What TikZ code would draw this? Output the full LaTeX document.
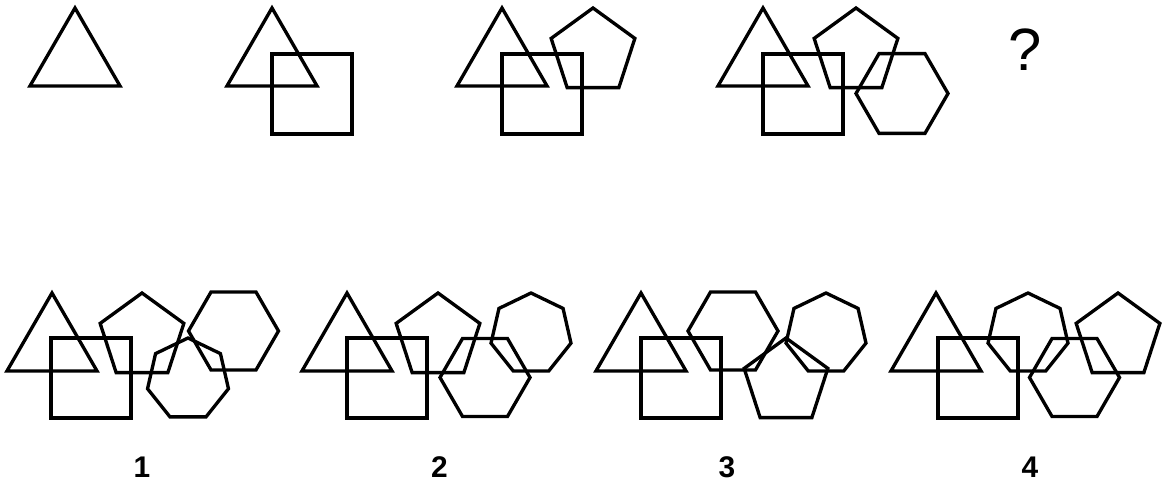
\documentclass[tikz,border=0pt]{standalone}
\usepackage{fontspec}
\setmainfont{Liberation Sans}
\usetikzlibrary{calc}
\tikzset{
  fig/.style={line width=1.9pt, black, line join=miter},
  numlbl/.style={font=\fontsize{17}{17}\selectfont\bfseries, inner sep=0pt},
  asklbl/.style={font=\fontsize{34}{34}\selectfont, inner sep=0pt},
}
% regular polygon: centre, sides, radius, angle of first corner
\newcommand{\ngon}[4]{%
  \pgfmathtruncatemacro{\lastk}{#2-1}
  \draw[fig, shift={(#1)}] (#4:#3) \foreach \k in {1,...,\lastk} { -- ({#4+360/#2*\k}:#3) } -- cycle;
}
\newcommand{\sqbox}[1]{\draw[fig, shift={(#1)}] (0,0) rectangle (80,80);}

\begin{document}
\begin{tikzpicture}[x=0.02cm, y=0.02cm]
 \useasboundingbox (0,0) rectangle (1165,484);
 % top row
 \ngon{75,424}{3}{52}{90}
 \ngon{272,424}{3}{52}{90}  \sqbox{272,350}
 \ngon{502,424}{3}{52}{90}  \sqbox{502,350}
 \ngon{593,432}{5}{44}{90}
 \ngon{763,424}{3}{52}{90}  \sqbox{763,350}
 \ngon{856,432}{5}{44}{90}
 \ngon{902,390.5}{6}{46}{0}
 \node[asklbl] (ask) at (1025,434) {?};
 % answers
 \foreach \dx in {52,347,641,936}
   \ngon{\dx,139}{3}{52}{90};
 \sqbox{51,66}  \sqbox{347,66}  \sqbox{641,66}  \sqbox{938,66}
 \ngon{142,147}{5}{44}{90}
 \ngon{233.5,153}{6}{45}{0}
 \ngon{188,104.5}{7}{41.5}{90}
 \ngon{438,147}{5}{44}{90}
 \ngon{485,106.5}{6}{45}{0}
 \ngon{531,150}{7}{41}{90}
 \ngon{733,153}{6}{45}{0}
 \ngon{826,150}{7}{41}{90}
 \ngon{786,102}{5}{44}{90}
 \ngon{1028,150}{7}{41}{90}
 \ngon{1074.5,106.5}{6}{45}{0}
 \ngon{1118,147}{5}{44}{90}
 \foreach \x/\lbl in {142/1,439.5/2,727/3,1030/4}
   \node[numlbl] (opt\lbl) at (\x,16.5) {\lbl};
\end{tikzpicture}
\end{document}
